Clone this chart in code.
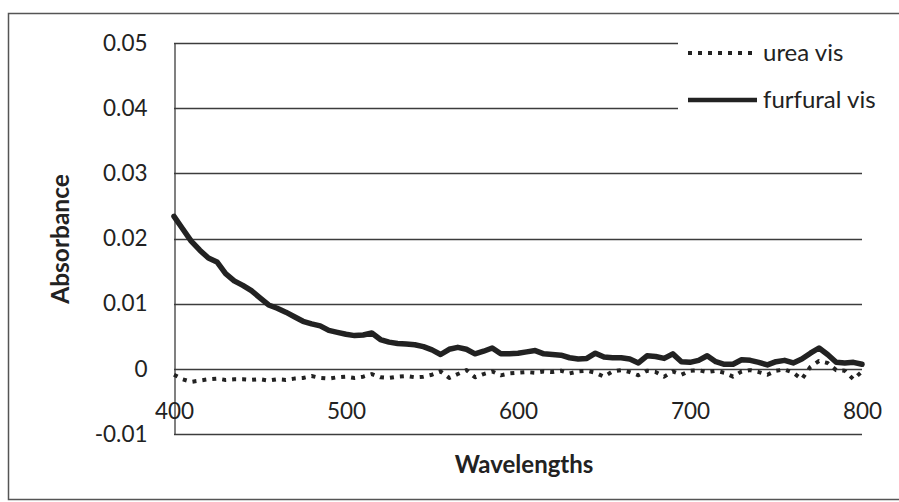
<!DOCTYPE html>
<html>
<head>
<meta charset="utf-8">
<script src="https://cdn.jsdelivr.net/npm/d3@7"></script>
<style>
  body { margin: 0; background: #fff; }
  svg { display: block; font-family: Lato, "Open Sans", sans-serif; }
</style>
</head>
<body>
<div id="chart"></div>
<script>
// Data
const wavelengths = [
  400, 405, 410, 415, 420, 425, 430, 435, 440, 445, 450, 455, 460, 465, 470, 475, 480, 485, 490, 495,
  500, 505, 510, 515, 520, 525, 530, 535, 540, 545, 550, 555, 560, 565, 570, 575, 580, 585, 590, 595,
  600, 605, 610, 615, 620, 625, 630, 635, 640, 645, 650, 655, 660, 665, 670, 675, 680, 685, 690, 695,
  700, 705, 710, 715, 720, 725, 730, 735, 740, 745, 750, 755, 760, 765, 770, 775, 780, 785, 790, 795,
  800
];

const furfural = [
  0.0234, 0.0215, 0.0196, 0.0182, 0.0170, 0.0164, 0.0146, 0.0135, 0.0128, 0.0120,
  0.0109, 0.0098, 0.0093, 0.0087, 0.0080, 0.0073, 0.0069, 0.0066, 0.0059, 0.0056,
  0.0053, 0.0051, 0.0052, 0.0055, 0.0045, 0.0041, 0.0039, 0.0038, 0.0037, 0.0034,
  0.0029, 0.0022, 0.0030, 0.0033, 0.0030, 0.0023, 0.0027, 0.0032, 0.0023, 0.0023,
  0.0024, 0.0026, 0.0028, 0.0023, 0.0022, 0.0021, 0.0017, 0.0015, 0.0016, 0.0024,
  0.0018, 0.0017, 0.0017, 0.0015, 0.0009, 0.0020, 0.0019, 0.0016, 0.0023, 0.0011,
  0.0010, 0.0013, 0.0020, 0.0011, 0.0007, 0.0007, 0.0014, 0.0013, 0.0010, 0.0006,
  0.0011, 0.0013, 0.0009, 0.0015, 0.0024, 0.0032, 0.0022, 0.0010, 0.0009, 0.0010,
  0.0007
];

const urea = [
  -0.0009, -0.0016, -0.0020, -0.0018, -0.0016, -0.0015, -0.0017, -0.0016, -0.0016, -0.0017,
  -0.0016, -0.0018, -0.0016, -0.0017, -0.0015, -0.0014, -0.0011, -0.0014, -0.0015, -0.0013,
  -0.0012, -0.0014, -0.0012, -0.0008, -0.0013, -0.0014, -0.0012, -0.0011, -0.0013, -0.0012,
  -0.0009, -0.0004, -0.0014, -0.0008, -0.0002, -0.0013, -0.0008, -0.0004, -0.0010, -0.0007,
  -0.0006, -0.0005, -0.0006, -0.0004, -0.0005, -0.0003, -0.0007, -0.0004, -0.0003, -0.0006,
  -0.0012, -0.0004, -0.0002, -0.0005, -0.0010, -0.0003, -0.0005, -0.0012, -0.0004, -0.0009,
  -0.0003, -0.0002, -0.0005, -0.0003, -0.0006, -0.0012, -0.0004, -0.0002, -0.0005, -0.0009,
  -0.0003, -0.0001, -0.0006, -0.0016, 0.0003, 0.0012, 0.0009, -0.0002, -0.0003, -0.0016,
  -0.0004
];

const yTicks = [-0.01, 0, 0.01, 0.02, 0.03, 0.04, 0.05];
const yTickLabels = ["-0.01", "0", "0.01", "0.02", "0.03", "0.04", "0.05"];
const xTicks = [400, 500, 600, 700, 800];

const series = [
  { name: "urea vis", values: urea, dotted: true },
  { name: "furfural vis", values: furfural, dotted: false }
];

// Dimensions
const dimensions = {
  width: 899,
  height: 502,
  margin: { top: 43, right: 31, bottom: 68, left: 174 }
};

const ink = "#222";
const gridColor = "#3c3c3c";

const svg = d3
  .select("#chart")
  .append("svg")
  .attr("width", dimensions.width)
  .attr("height", dimensions.height);

// Outer frame
svg
  .append("rect")
  .attr("x", 8.5)
  .attr("y", 13.5)
  .attr("width", 920)
  .attr("height", 486)
  .attr("fill", "none")
  .attr("stroke", "#555")
  .attr("stroke-width", 1.5);

// Scales
const xScale = d3
  .scaleLinear()
  .domain([400, 800])
  .range([dimensions.margin.left, dimensions.width - dimensions.margin.right - 6]);

const yScale = d3
  .scaleLinear()
  .domain([-0.01, 0.05])
  .range([dimensions.height - dimensions.margin.bottom, dimensions.margin.top]);

// Gridlines
svg
  .append("g")
  .selectAll("line")
  .data(yTicks)
  .join("line")
  .attr("x1", xScale(400))
  .attr("x2", xScale(800))
  .attr("y1", (d) => Math.round(yScale(d)) + 0.5)
  .attr("y2", (d) => Math.round(yScale(d)) + 0.5)
  .attr("stroke", gridColor)
  .attr("stroke-width", 1.3);

// Y axis
const yAxis = d3
  .axisLeft(yScale)
  .tickValues(yTicks)
  .tickFormat((d, i) => yTickLabels[i])
  .tickSize(0)
  .tickPadding(27);

svg
  .append("g")
  .attr("transform", `translate(${xScale(400) + 0.5}, 0)`)
  .call(yAxis)
  .call((g) => g.select(".domain").attr("stroke", gridColor).attr("stroke-width", 1.3))
  .selectAll("text")
  .attr("fill", ink)
  .style("font-size", "22.5px")
  .style("font-family", "Lato, 'Open Sans', sans-serif");

// X axis labels (axis crosses at 0)
const xAxis = d3
  .axisBottom(xScale)
  .tickValues(xTicks)
  .tickFormat(d3.format("d"))
  .tickSize(0)
  .tickPadding(34);

svg
  .append("g")
  .attr("transform", `translate(0, ${Math.round(yScale(0)) + 0.5})`)
  .call(xAxis)
  .call((g) => g.select(".domain").remove())
  .selectAll("text")
  .attr("fill", ink)
  .style("font-size", "22.5px")
  .style("font-family", "Lato, 'Open Sans', sans-serif");

// Lines
const line = d3
  .line()
  .x((d) => xScale(d[0]))
  .y((d) => yScale(d[1]))
  .curve(d3.curveLinear);

svg
  .append("g")
  .selectAll("path")
  .data(series)
  .join("path")
  .attr("d", (s) => line(wavelengths.map((w, i) => [w, s.values[i]])))
  .attr("fill", "none")
  .attr("stroke", ink)
  .attr("stroke-width", (s) => (s.dotted ? 4 : 5.5))
  .attr("stroke-dasharray", (s) => (s.dotted ? "4,6" : null))
  .attr("stroke-linejoin", "round")
  .attr("stroke-linecap", (s) => (s.dotted ? "butt" : "round"));

// Legend
const legend = svg.append("g").attr("transform", "translate(678, 28)");

legend
  .append("rect")
  .attr("width", 240)
  .attr("height", 96)
  .attr("fill", "#fff");

const legendItems = legend
  .selectAll(".item")
  .data(series)
  .join("g")
  .attr("class", "item")
  .attr("transform", (d, i) => `translate(0, ${25 + i * 47})`);

legendItems
  .append("line")
  .attr("x1", 10)
  .attr("x2", (d) => (d.dotted ? 76 : 79))
  .attr("y1", 0)
  .attr("y2", 0)
  .attr("stroke", ink)
  .attr("stroke-width", (d) => (d.dotted ? 4 : 4.5))
  .attr("stroke-dasharray", (d) => (d.dotted ? "4,6" : null));

legendItems
  .append("text")
  .attr("x", 85)
  .attr("y", 8)
  .attr("fill", ink)
  .style("font-size", "24px")
  .text((d) => d.name);

// Axis titles
svg
  .append("text")
  .attr("transform", `translate(69, ${239}) rotate(-90)`)
  .attr("text-anchor", "middle")
  .attr("fill", ink)
  .style("font-size", "24.5px")
  .style("font-weight", "bold")
  .text("Absorbance");

svg
  .append("text")
  .attr("x", 524)
  .attr("y", 473)
  .attr("text-anchor", "middle")
  .attr("fill", ink)
  .style("font-size", "24px")
  .style("font-weight", "bold")
  .text("Wavelengths");
</script>
</body>
</html>
